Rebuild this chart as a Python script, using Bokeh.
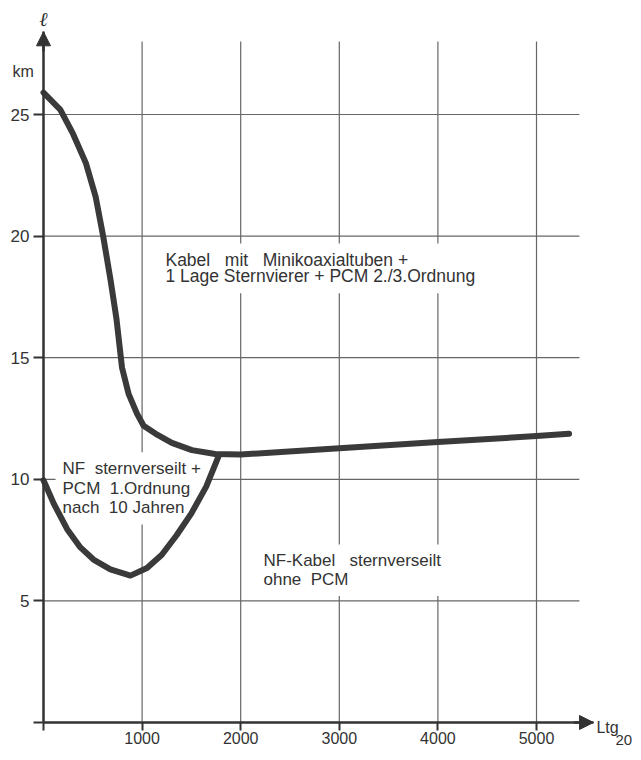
from bokeh.plotting import figure
from bokeh.models import LinearAxis, FixedTicker, Label, Arrow, NormalHead
from bokeh.embed import file_html
from bokeh.resources import INLINE

# ---- data ----
X_TICKS = [0, 1000, 2000, 3000, 4000, 5000]
Y_TICKS = [0, 5, 10, 15, 20, 25]
X_GRID = [1000, 2000, 3000, 4000, 5000]
Y_GRID = [5, 10, 15, 20, 25]

# upper boundary: Kabel mit Minikoaxialtuben
UPPER_X = [0, 170, 300, 430, 530, 605, 680, 740, 796, 864, 948, 1015, 1134,
           1302, 1505, 1741, 2000, 3000, 4000, 5000, 5330]
UPPER_Y = [25.9, 25.2, 24.2, 23.0, 21.6, 20.0, 18.2, 16.6, 14.6, 13.5, 12.7,
           12.2, 11.88, 11.5, 11.2, 11.04, 11.02, 11.28, 11.53, 11.78, 11.87]

# lower boundary: NF sternverseilt + PCM 1. Ordnung
LOWER_X = [0, 104, 240, 374, 507, 678, 882, 1050, 1200, 1350, 1500, 1650, 1774]
LOWER_Y = [9.96, 9.0, 7.95, 7.2, 6.7, 6.3, 6.04, 6.35, 6.9, 7.7, 8.6, 9.7, 10.93]

X_END = 5578     # x axis arrow tip
Y_END = 28.4     # y axis arrow tip
GRID_TOP = 28.0
GRID_RIGHT = 5435

INK = "#333333"
FONT = "Liberation Sans"

p = figure(width=633, height=752, x_range=(-436.1, 5983.8), y_range=(-1.2336, 29.688),
           output_backend="svg", toolbar_location=None, min_border=0,
           x_axis_type=None, y_axis_type=None, outline_line_color=None,
           background_fill_color="white", border_fill_color="white")
p.grid.visible = False

# grid lines
p.segment(x0=X_GRID, y0=[0] * len(X_GRID), x1=X_GRID, y1=[GRID_TOP] * len(X_GRID),
          line_color="#666666", line_width=1.2, level="image")
p.segment(x0=[0] * len(Y_GRID), y0=Y_GRID, x1=[GRID_RIGHT] * len(Y_GRID), y1=Y_GRID,
          line_color="#666666", line_width=1.2, level="image")

NB = "\u00a0"
GAP3 = f" {NB}{NB}"
GAP2 = f" {NB}"

# region labels with white background (interrupt grid)
def region_label(x, y, text, size, lh):
    lab = Label(x=x, y=y, text=text, text_font=FONT, text_font_size=size,
                text_color=INK, text_align="left", text_baseline="top",
                text_line_height=lh, background_fill_color="white",
                padding=7, level="underlay")
    p.add_layout(lab)

region_label(1166, 19.70,
             f"Kabel{GAP3}mit{GAP3}Minikoaxialtuben +\n1 Lage Sternvierer + PCM 2./3.Ordnung",
             "17.5px", 0.79)
region_label(122, 11.11,
             f"NF{GAP2}sternverseilt +\nPCM{GAP2}1.Ordnung\nnach{GAP2}10 Jahren",
             "17px", 1.03)
region_label(2160, 7.32, f"NF-Kabel{GAP3}sternverseilt\nohne{GAP2}PCM", "17px", 0.97)

# curves
p.line(UPPER_X, UPPER_Y, line_width=6, line_color="#3a3a3a",
       line_join="round", line_cap="round")
p.line(LOWER_X, LOWER_Y, line_width=6, line_color="#3a3a3a",
       line_join="round", line_cap="round")

# axes at data zero
def style_axis(ax):
    ax.axis_line_color = INK
    ax.axis_line_width = 2.5
    ax.major_tick_line_color = INK
    ax.major_tick_line_width = 2
    ax.major_tick_in = 0
    ax.minor_tick_line_color = None
    ax.major_label_text_font = FONT
    ax.major_label_text_font_size = "17px"
    ax.major_label_text_color = INK

xaxis = LinearAxis(fixed_location=0, bounds=(0, X_END),
                   ticker=FixedTicker(ticks=X_TICKS),
                   major_label_overrides={0: ""})
style_axis(xaxis)
xaxis.major_tick_out = 8
xaxis.major_label_standoff = 2
xaxis.major_label_text_font_size = "16px"
p.add_layout(xaxis, "below")

yaxis = LinearAxis(fixed_location=0, bounds=(0, Y_END),
                   ticker=FixedTicker(ticks=Y_TICKS),
                   major_label_overrides={0: ""})
style_axis(yaxis)
yaxis.major_tick_out = 10
yaxis.major_label_standoff = 4
p.add_layout(yaxis, "left")

# arrow heads
p.add_layout(Arrow(x_start=X_END - 200, y_start=0, x_end=X_END, y_end=0,
                   line_color=INK, line_width=2.5,
                   end=NormalHead(size=14, fill_color=INK, line_color=INK)))
p.add_layout(Arrow(x_start=0, y_start=Y_END - 0.8, x_end=0, y_end=Y_END,
                   line_color=INK, line_width=2.5,
                   end=NormalHead(size=14, fill_color=INK, line_color=INK)))

# axis titles
p.add_layout(Label(x=0, y=28.92, text="ℓ", text_font="DejaVu Serif",
                   text_font_style="italic", text_font_size="20px",
                   text_color=INK, text_align="center", text_baseline="middle"))
p.add_layout(Label(x=-98, y=26.78, text="km", text_font=FONT,
                   text_font_size="16px", text_color=INK, text_align="right",
                   text_baseline="alphabetic"))
p.add_layout(Label(x=5608, y=-0.216, text="Ltg", text_font=FONT,
                   text_font_size="16px", text_color=INK, text_align="left",
                   text_baseline="alphabetic"))
p.add_layout(Label(x=5800, y=-0.706, text="20", text_font=FONT,
                   text_font_size="15px", text_color=INK, text_align="left",
                   text_baseline="alphabetic"))

open("out.html", "w").write(file_html(p, INLINE))
